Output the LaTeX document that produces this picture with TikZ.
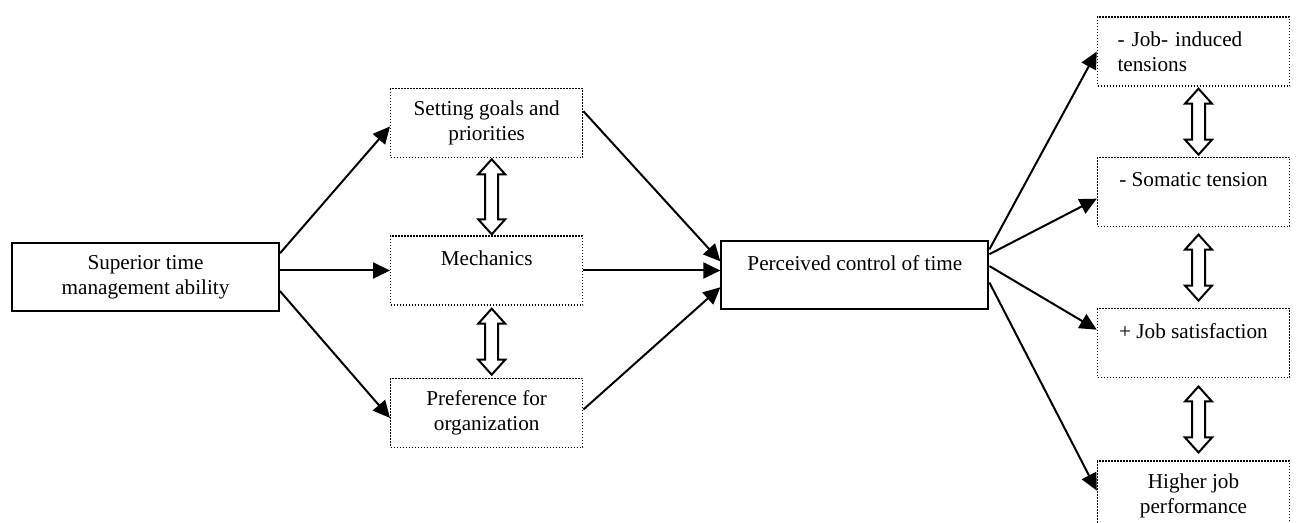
\documentclass[tikz,border=0pt]{standalone}
\usepackage{fontspec}
\setmainfont{Liberation Serif}
\usetikzlibrary{arrows.meta,positioning,calc}
\tikzset{
  mainbox/.style={draw, line width=1pt, align=center, inner sep=2pt,
                  minimum width=133.5pt, minimum height=34pt,
                  font=\fontsize{10.6pt}{12.5pt}\selectfont},
  subbox/.style={draw, line width=0.7pt, dash pattern=on 0.7pt off 0.8pt,
                 align=center, inner sep=2pt, minimum width=96pt, minimum height=34.5pt,
                 font=\fontsize{10.6pt}{12.5pt}\selectfont},
  sig/.style={-{Triangle[length=8.5pt,width=8pt]}, line width=1pt},
  hollow/.style={draw, line width=1pt, fill=white, line join=miter},
}
% hollow double arrow between two stacked boxes: upper, lower, half length
\newcommand{\dblarr}[3]{%
  \draw[hollow] let \p1=($(#1.south)!0.5!(#2.north)+(2.5pt,0pt)$) in
    (\x1,\y1+#3) -- (\x1+6.75pt,\y1+#3-7.5pt) -- (\x1+3.25pt,\y1+#3-7.5pt)
    -- (\x1+3.25pt,\y1-#3+7.5pt) -- (\x1+6.75pt,\y1-#3+7.5pt) -- (\x1,\y1-#3)
    -- (\x1-6.75pt,\y1-#3+7.5pt) -- (\x1-3.25pt,\y1-#3+7.5pt)
    -- (\x1-3.25pt,\y1+#3-7.5pt) -- (\x1-6.75pt,\y1+#3-7.5pt) -- cycle;}

\begin{document}
\begin{tikzpicture}[x=0.5pt, y=-0.5pt]
  \useasboundingbox (0,0) rectangle (1297,523);

  \node[mainbox] (sup) at (145.5,277) {Superior time\\management ability};
  \node[subbox, right=55pt of sup, yshift=3.25pt] (mech) {Mechanics\\\mbox{}};
  \node[subbox, above=38.5pt of mech] (goal) {Setting goals and\\priorities};
  \node[subbox, below=36pt of mech] (pref) {Preference for\\organization};
  \node[mainbox, right=68.5pt of mech, yshift=-2.5pt] (perc) {Perceived control of time\\\mbox{}};

  \node[subbox, text width=76pt, align=left] (tens) at (1193.5,51.5) {- Job- induced\\tensions};
  \node[subbox, below=35pt of tens] (som) {- Somatic tension\\\mbox{}};
  \node[subbox, below=40.5pt of som] (sat) {+ Job satisfaction\\\mbox{}};
  \node[subbox, below=41pt of sat] (perf) {Higher job\\performance};

  % left fan
  \draw[sig] (sup.10) -- (goal.182);
  \draw[sig] (sup.east |- mech.west) -- (mech.west);
  \draw[sig] (sup.-6) -- (pref.183);

  % into perceived control
  \draw[sig] (goal.7) -- (perc.174);
  \draw[sig] (mech.east) -- (mech.east -| perc.west);
  \draw[sig] (pref.2) -- (perc.185);

  % outcomes
  \draw[sig] (perc.11) -- (tens.west);
  \draw[sig] (perc.9) -- (som.184);
  \draw[sig] (perc.4) -- (sat.172);
  \draw[sig] (perc.-3) -- (perf.177);

  \dblarr{goal}{mech}{18.75pt}
  \dblarr{mech}{pref}{16.5pt}
  \dblarr{tens}{som}{16.5pt}
  \dblarr{som}{sat}{16.5pt}
  \dblarr{sat}{perf}{16.5pt}
\end{tikzpicture}
\end{document}
